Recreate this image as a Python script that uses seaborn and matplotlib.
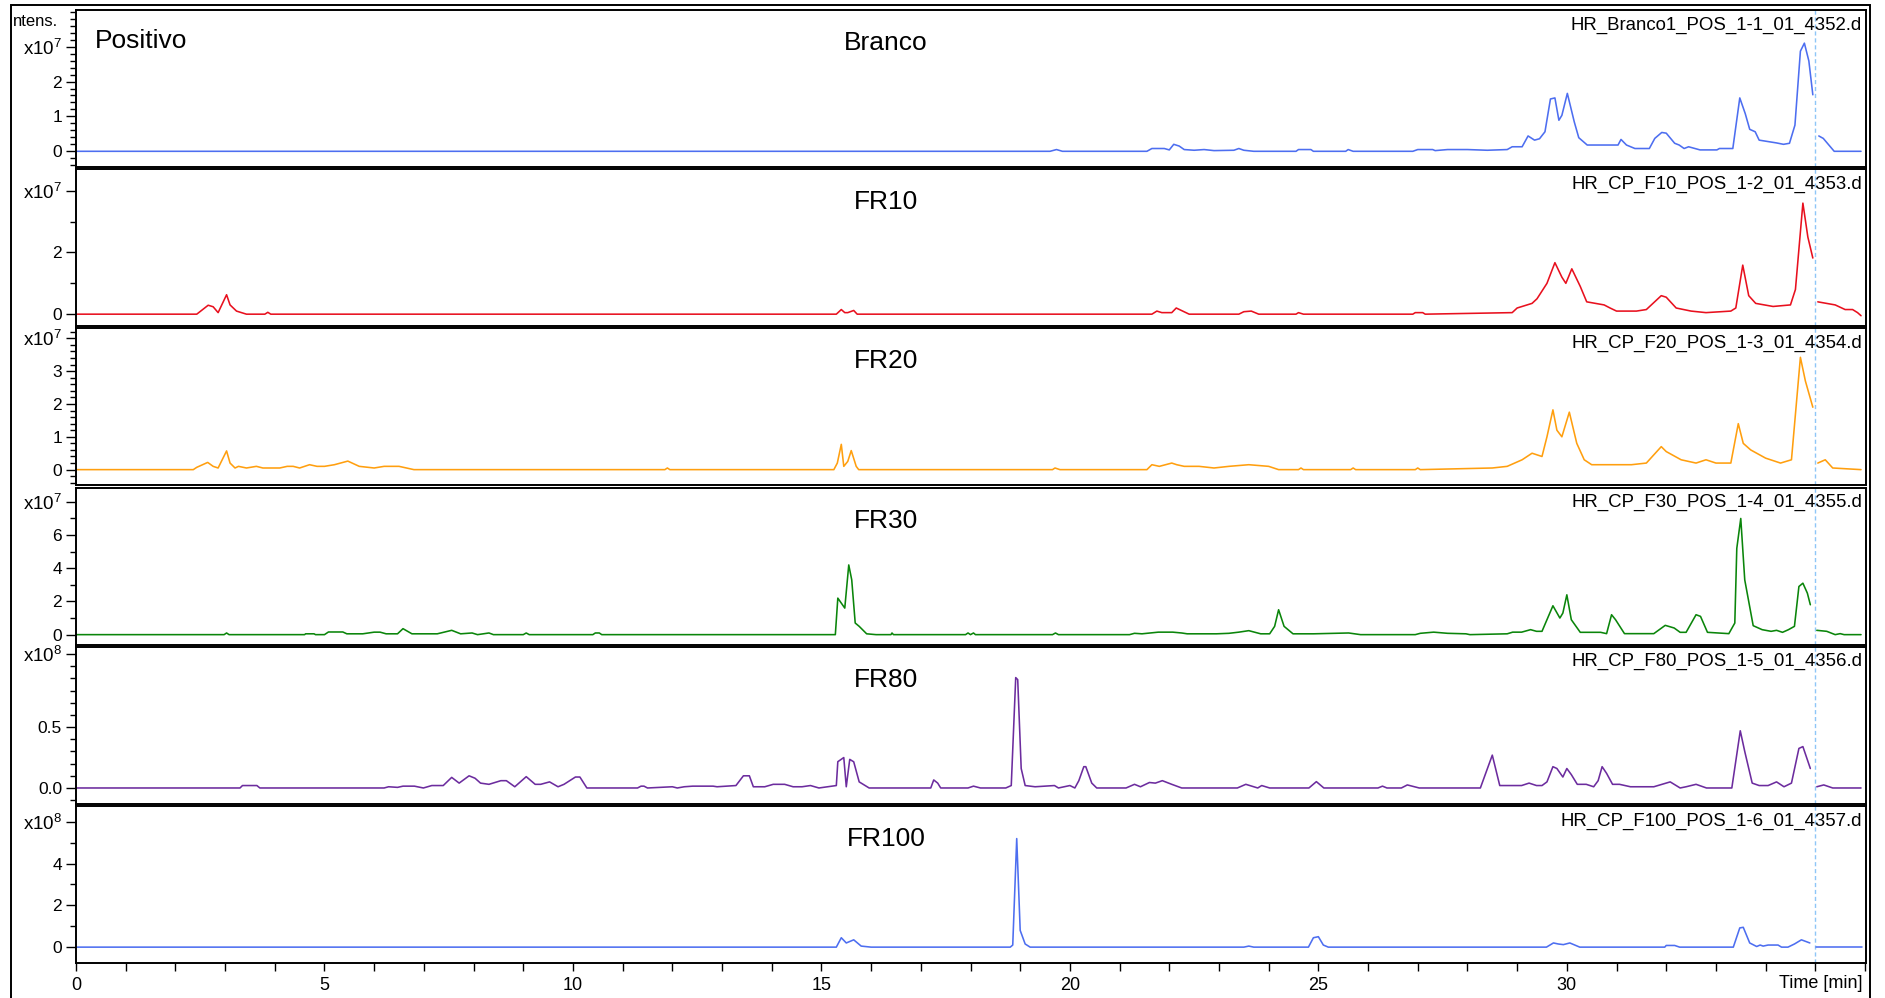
import numpy as np
import pandas as pd
import matplotlib
matplotlib.use("Agg")
import matplotlib.pyplot as plt
import seaborn as sns
from matplotlib.patches import Rectangle
from matplotlib.ticker import FixedLocator

# ---------------- data (time in min, intensity in units of the panel exponent) ----------------
BRANCO_T = [0, 19.6, 19.73, 19.85, 21.55, 21.65, 21.9, 22.0, 22.09, 22.2,
            22.3, 22.5, 22.7, 22.9, 23.3, 23.4, 23.5, 23.7, 24.55, 24.6,
            24.85, 24.9, 25.55, 25.6, 25.7, 26.9, 27.0, 27.3, 27.35, 27.6,
            28.0, 28.4, 28.8, 28.9, 29.1, 29.22, 29.35, 29.45, 29.56, 29.67,
            29.76, 29.84, 29.9, 30.01, 30.15, 30.24, 30.41, 31.03, 31.09, 31.2,
            31.37, 31.66, 31.77, 31.91, 32.0, 32.17, 32.26, 32.36, 32.45, 32.68,
            33.02, 33.07, 33.34, 33.48, 33.59, 33.68, 33.79, 33.87, 34.22, 34.36,
            34.48, 34.59, 34.7, 34.78, 34.87, 34.95, 35.07, 35.16, 35.38, 35.92]
BRANCO_V = [0, 0, 0.05, 0, 0, 0.08, 0.08, 0.04, 0.2, 0.15,
            0.05, 0.03, 0.05, 0.02, 0.03, 0.08, 0.03, 0, 0, 0.05,
            0.05, 0, 0, 0.05, 0, 0, 0.05, 0.05, 0.02, 0.05,
            0.05, 0.03, 0.05, 0.13, 0.13, 0.44, 0.32, 0.36, 0.56, 1.5,
            1.53, 0.89, 1.03, 1.66, 0.84, 0.39, 0.18, 0.18, 0.34, 0.18,
            0.08, 0.08, 0.37, 0.54, 0.52, 0.23, 0.18, 0.08, 0.13, 0.04,
            0.04, 0.08, 0.08, 1.53, 1.08, 0.63, 0.56, 0.32, 0.24, 0.2,
            0.23, 0.75, 2.87, 3.1, 2.59, 1.62, 0.44, 0.37, 0, 0]

FR10_T = [0, 2.43, 2.66, 2.76, 2.86, 3.03, 3.1, 3.23, 3.43, 3.8, 3.86, 3.92,
          15.3, 15.4, 15.47, 15.53, 15.65, 15.72,
          21.65, 21.75, 21.85, 22.05, 22.14, 22.27, 22.4,
          23.4, 23.5, 23.65, 23.8, 24.55, 24.6, 24.7, 26.9, 26.95, 27.1, 27.15,
          28.9, 29.0, 29.2, 29.3, 29.4, 29.6, 29.76, 29.9, 29.98, 30.1,
          30.27, 30.4, 30.75, 30.87, 31.0, 31.4, 31.6, 31.9, 32.0, 32.2,
          32.35, 32.5, 32.8, 33.3, 33.4, 33.54, 33.66, 33.8, 34.15, 34.5,
          34.6, 34.75, 34.85, 34.95,
          35.05, 35.4, 35.6, 35.75, 35.85, 35.92]
FR10_V = [0, 0, 0.29, 0.24, 0.05, 0.63, 0.3, 0.1, 0, 0, 0.06, 0,
          0, 0.15, 0.05, 0.05, 0.12, 0,
          0, 0.1, 0.05, 0.05, 0.2, 0.1, 0,
          0, 0.08, 0.1, 0, 0, 0.05, 0, 0, 0.05, 0.05, 0,
          0.05, 0.2, 0.3, 0.35, 0.5, 1.0, 1.67, 1.2, 1.0, 1.47,
          0.9, 0.4, 0.3, 0.2, 0.1, 0.1, 0.15, 0.6, 0.55, 0.2,
          0.15, 0.1, 0.05, 0.1, 0.2, 1.59, 0.6, 0.35, 0.25, 0.3,
          0.8, 3.6, 2.5, 1.82,
          0.4, 0.3, 0.15, 0.15, 0.05, -0.05]

FR20_T = [0, 2.36, 2.43, 2.65, 2.76, 2.86, 3.03, 3.1, 3.2, 3.27,
          3.43, 3.63, 3.76, 4.1, 4.25, 4.37, 4.5, 4.7, 4.85, 5.0,
          5.2, 5.47, 5.7, 6.0, 6.2, 6.5, 6.8,
          11.85, 11.9, 11.95,
          15.25, 15.32, 15.4, 15.45, 15.53, 15.6, 15.7, 15.75,
          19.65, 19.7, 19.8,
          21.55, 21.65, 21.8, 22.05, 22.15, 22.3, 22.6, 22.9, 23.2, 23.6, 24.0, 24.2,
          24.6, 24.65, 24.7, 25.65, 25.7, 25.75, 26.95, 27.0, 27.05,
          28.5, 28.8, 29.1, 29.3, 29.5, 29.6, 29.72, 29.8, 29.9, 30.05,
          30.2, 30.35, 30.5, 31.3, 31.6, 31.9, 32.0, 32.3, 32.6, 32.8,
          33.0, 33.3, 33.45, 33.55, 33.7, 34.0, 34.3, 34.52, 34.7, 34.8, 34.95,
          35.05, 35.2, 35.35, 35.92]
FR20_V = [0, 0, 0.07, 0.22, 0.1, 0.05, 0.57, 0.2, 0.05, 0.1,
          0.05, 0.1, 0.05, 0.05, 0.1, 0.1, 0.05, 0.15, 0.1, 0.1,
          0.15, 0.26, 0.1, 0.05, 0.1, 0.1, 0,
          0, 0.05, 0,
          0, 0.2, 0.77, 0.1, 0.25, 0.58, 0.1, 0,
          0, 0.05, 0,
          0, 0.15, 0.1, 0.2, 0.15, 0.1, 0.1, 0.05, 0.1, 0.15, 0.1, 0,
          0, 0.05, 0, 0, 0.05, 0, 0, 0.05, 0,
          0.05, 0.1, 0.3, 0.5, 0.4, 1.0, 1.82, 1.2, 1.0, 1.75,
          0.8, 0.3, 0.15, 0.15, 0.2, 0.7, 0.55, 0.3, 0.2, 0.3,
          0.2, 0.2, 1.4, 0.8, 0.6, 0.35, 0.2, 0.3, 3.42, 2.7, 1.9,
          0.2, 0.3, 0.05, 0]

FR30_T = [0, 2.98, 3.03, 3.08, 4.6, 4.62, 4.79, 4.82, 5.0, 5.08,
          5.37, 5.45, 5.77, 6.0, 6.12, 6.24, 6.47, 6.58, 6.76, 7.27,
          7.56, 7.74, 7.97, 8.08, 8.31, 8.4, 9.0, 9.06, 9.12, 10.4,
          10.45, 10.53, 10.58,
          15.28, 15.33, 15.47, 15.55, 15.61, 15.68, 15.76, 15.91, 16.1, 16.4,
          16.42, 16.45, 17.9, 17.95, 18.0, 18.06, 18.1,
          19.65, 19.71, 19.77, 21.2, 21.3, 21.45, 21.78, 22.07, 22.25, 22.36,
          22.95, 23.2, 23.4, 23.6, 23.84, 24.02, 24.12, 24.2, 24.31, 24.49,
          24.67, 24.9, 25.61, 25.73, 25.85, 26.95, 27.05, 27.32, 27.6, 27.97,
          28.05, 28.8, 28.91, 29.09, 29.27, 29.39, 29.5, 29.72, 29.86, 29.92,
          30.0, 30.09, 30.27, 30.68, 30.8, 30.9, 30.98, 31.16, 31.75, 31.98,
          32.16, 32.28, 32.4, 32.6, 32.69, 32.83, 33.26, 33.38, 33.42, 33.5,
          33.58, 33.75, 33.93, 34.11, 34.22, 34.34, 34.46, 34.58, 34.67, 34.75,
          34.84, 34.9,
          35.03, 35.23, 35.4, 35.5, 35.58, 35.92]
FR30_V = [0, 0, 0.1, 0, 0, 0.05, 0.05, 0, 0, 0.16,
          0.16, 0.05, 0.05, 0.15, 0.15, 0.05, 0.05, 0.36, 0.05, 0.05,
          0.26, 0.05, 0.1, 0, 0.1, 0, 0, 0.1, 0, 0,
          0.1, 0.1, 0,
          0, 2.2, 1.6, 4.2, 3.3, 0.7, 0.5, 0.05, 0, 0,
          0.1, 0, 0, 0.1, 0, 0.1, 0,
          0, 0.1, 0, 0, 0.08, 0.05, 0.15, 0.15, 0.1, 0.05,
          0.05, 0.08, 0.15, 0.24, 0.05, 0.05, 0.5, 1.5, 0.5, 0.05,
          0.05, 0.05, 0.1, 0.05, 0, 0, 0.08, 0.15, 0.08, 0.05,
          0, 0.05, 0.15, 0.15, 0.3, 0.2, 0.2, 1.74, 1.0, 1.3,
          2.4, 0.9, 0.14, 0.14, 0.06, 1.2, 0.9, 0.06, 0.06, 0.56,
          0.4, 0.14, 0.14, 1.2, 1.1, 0.14, 0.06, 0.7, 5.2, 7.0,
          3.3, 0.54, 0.3, 0.2, 0.26, 0.14, 0.3, 0.5, 2.9, 3.1,
          2.5, 1.8,
          0.26, 0.2, 0, 0.06, 0, 0]

FR80_T = [0, 3.3, 3.35, 3.64, 3.7, 6.2, 6.29, 6.47, 6.58, 6.81,
          6.99, 7.16, 7.39, 7.56, 7.71, 7.91, 8.03, 8.14, 8.31, 8.55,
          8.66, 8.83, 9.06, 9.24, 9.35, 9.53, 9.7, 9.82, 10.05, 10.14,
          10.28,
          11.3, 11.37, 11.43, 11.5, 12.0, 12.1, 12.24, 12.41, 12.82, 12.9,
          13.28, 13.43, 13.55, 13.63, 13.86, 14.03, 14.26, 14.43, 14.61, 14.78,
          14.95, 15.3, 15.33, 15.45, 15.5, 15.57, 15.65, 15.76, 15.96,
          17.2, 17.26, 17.34, 17.4, 17.95, 18.06, 18.2, 18.71, 18.82, 18.91,
          18.95, 19.02, 19.1, 19.3, 19.69, 19.77, 20.0, 20.1, 20.18, 20.28,
          20.32, 20.44, 20.54, 21.13, 21.3, 21.42, 21.6, 21.72, 21.86, 22.05,
          22.25,
          23.37, 23.54, 23.78, 23.86, 24.02, 24.81, 24.96, 25.11, 26.2, 26.29,
          26.38, 26.67, 26.79, 27.03, 28.26, 28.5, 28.65, 29.09, 29.24, 29.39,
          29.5, 29.6, 29.72, 29.8, 29.92, 30.0, 30.09, 30.21, 30.39, 30.54,
          30.63, 30.71, 30.8, 30.92, 31.06, 31.28, 31.75, 32.08, 32.28, 32.4,
          32.6, 32.81, 33.32, 33.49, 33.58, 33.73, 33.87, 34.05, 34.22, 34.37,
          34.52, 34.67, 34.75, 34.9,
          35.03, 35.17, 35.35, 35.92]
FR80_V = [0, 0, 0.02, 0.02, 0, 0, 0.01, 0.005, 0.015, 0.015,
          0, 0.02, 0.02, 0.087, 0.04, 0.1, 0.08, 0.04, 0.03, 0.06,
          0.06, 0.01, 0.093, 0.03, 0.03, 0.05, 0.01, 0.03, 0.09, 0.09,
          0,
          0, 0.015, 0.015, 0, 0.01, 0, 0.01, 0.015, 0.015, 0.01,
          0.02, 0.1, 0.1, 0.01, 0.01, 0.03, 0.03, 0.01, 0.01, 0.02,
          0, 0.02, 0.216, 0.25, 0.01, 0.235, 0.215, 0.05, 0,
          0, 0.066, 0.04, 0, 0, 0.015, 0, 0, 0.02, 0.907,
          0.89, 0.16, 0.02, 0.01, 0.02, 0, 0.02, 0, 0.06, 0.175,
          0.175, 0.04, 0, 0, 0.03, 0.01, 0.045, 0.04, 0.06, 0.03,
          0,
          0, 0.03, 0, 0.02, 0, 0, 0.052, 0, 0, 0.015,
          0, 0, 0.025, 0, 0, 0.27, 0.02, 0.02, 0.04, 0.02,
          0.02, 0.05, 0.175, 0.16, 0.09, 0.16, 0.11, 0.03, 0.03, 0.01,
          0.06, 0.175, 0.12, 0.03, 0.03, 0.01, 0.01, 0.05, 0, 0.01,
          0.03, 0, 0, 0.47, 0.3, 0.04, 0.02, 0.02, 0.05, 0.01,
          0.04, 0.325, 0.34, 0.16,
          0.01, 0.025, 0, 0]

FR100_T = [0, 15.3, 15.4, 15.5, 15.65, 15.8, 16.0,
           18.8, 18.85, 18.93, 19.0, 19.1, 19.2,
           23.5, 23.6, 23.7,
           24.8, 24.9, 25.0, 25.1, 25.2,
           29.59, 29.73, 29.83, 29.93, 30.06, 30.26,
           31.97, 32.0, 32.17, 32.27,
           33.35, 33.48, 33.55, 33.68, 33.82, 33.89, 33.95, 34.05, 34.25, 34.32,
           34.45, 34.58, 34.72, 34.89,
           35.01, 35.93]
FR100_V = [0, 0, 0.45, 0.2, 0.35, 0.05, 0,
           0, 0.1, 5.2, 0.8, 0.15, 0,
           0, 0.05, 0,
           0, 0.45, 0.5, 0.1, 0,
           0, 0.2, 0.15, 0.12, 0.2, 0,
           0, 0.08, 0.08, 0,
           0, 0.92, 0.95, 0.2, 0.03, 0.1, 0.05, 0.1, 0.1, 0,
           0, 0.15, 0.35, 0.2,
           0, 0]

SAMPLES = ["Branco", "FR10", "FR20", "FR30", "FR80", "FR100"]
FILES = ["HR_Branco1_POS_1-1_01_4352.d", "HR_CP_F10_POS_1-2_01_4353.d",
         "HR_CP_F20_POS_1-3_01_4354.d", "HR_CP_F30_POS_1-4_01_4355.d",
         "HR_CP_F80_POS_1-5_01_4356.d", "HR_CP_F100_POS_1-6_01_4357.d"]
SERIES_T = [BRANCO_T, FR10_T, FR20_T, FR30_T, FR80_T, FR100_T]
SERIES_V = [BRANCO_V, FR10_V, FR20_V, FR30_V, FR80_V, FR100_V]
EXPONENTS = [7, 7, 7, 7, 8, 8]
X_TICKS = [0, 5, 10, 15, 20, 25, 30, 35]
X_TICK_LABELS = ["0", "5", "10", "15", "20", "25", "30", ""]
BREAK_T = 35.0

# ---------------- styling ----------------
COLORS = ["#4d6ef0", "#e8101e", "#ff9f0f", "#0a850a", "#6c2c9e", "#4d6ef0"]
YLIMS = [(-0.45, 4.05), (-0.39, 4.7), (-0.48, 4.3), (-0.6, 8.86), (-0.13, 1.16), (-0.76, 6.76)]
Y_MAJOR = [[0, 1, 2], [0, 2], [0, 1, 2, 3], [0, 2, 4, 6], [0.0, 0.5], [0, 2, 4]]
Y_MAJOR_LBL = [["0", "1", "2"], ["0", "2"], ["0", "1", "2", "3"], ["0", "2", "4", "6"],
               ["0.0", "0.5"], ["0", "2", "4"]]
Y_EXP_POS = [3, 4, 4, 8, 1.1, 6]
Y_MINOR = [np.arange(-0.4, 4.01, 0.2), [1, 3], np.arange(-0.4, 4.21, 0.2),
           [1, 3, 5, 7], np.arange(-0.1, 1.11, 0.1), [1, 3, 5]]

sns.set_theme(style="ticks")
plt.rcParams["font.family"] = ["Liberation Sans", "DejaVu Sans"]
plt.rcParams["mathtext.fontset"] = "custom"
plt.rcParams["mathtext.rm"] = "Liberation Sans"
plt.rcParams["mathtext.it"] = "Liberation Sans:italic"
plt.rcParams["axes.edgecolor"] = "black"
plt.rcParams["xtick.color"] = "black"
plt.rcParams["ytick.color"] = "black"
plt.rcParams["text.color"] = "black"

W, H = 1885, 998
fig = plt.figure(figsize=(W / 100, H / 100), dpi=100)
gs = fig.add_gridspec(6, 1, left=76 / W, right=1866 / W, top=1 - 10 / H,
                      bottom=1 - 963 / H, hspace=0.014)

for i in range(6):
    ax = fig.add_subplot(gs[i, 0])
    t = np.asarray(SERIES_T[i], float)
    v = np.asarray(SERIES_V[i], float)
    assert len(t) == len(v), (SAMPLES[i], len(t), len(v))
    df = pd.DataFrame({"t": t, "v": v, "seg": (t > BREAK_T).astype(int)})
    sns.lineplot(data=df, x="t", y="v", units="seg", estimator=None,
                 color=COLORS[i], lw=1.15, ax=ax, legend=False)
    ax.axvline(BREAK_T, color="#8ec6f7", lw=1.0, ls=(0, (3, 2)), zorder=1)
    ax.set_xlim(0, 36.02)
    ax.set_ylim(*YLIMS[i])
    ax.set_xlabel("")
    ax.set_ylabel("")
    for s in ax.spines.values():
        s.set_visible(True)
        s.set_linewidth(1.4)
        s.set_color("black")

    ax.yaxis.set_major_locator(FixedLocator(Y_MAJOR[i] + [Y_EXP_POS[i]]))
    ax.set_yticklabels(Y_MAJOR_LBL[i] + [r"x10$^{%d}$" % EXPONENTS[i]])
    ax.yaxis.set_minor_locator(FixedLocator(list(Y_MINOR[i])))
    ax.tick_params(axis="y", which="major", direction="out", length=7, width=1.0,
                   labelsize=12.5, pad=3, left=True)
    ax.tick_params(axis="y", which="minor", direction="out", length=4, width=1.0, left=True)
    ax.get_yticklabels()[-1].set_fontsize(13.5)

    ax.xaxis.set_major_locator(FixedLocator(X_TICKS))
    ax.xaxis.set_minor_locator(FixedLocator([k for k in range(0, 37) if k % 5 != 0]))
    if i < 5:
        ax.tick_params(axis="x", which="both", bottom=False, labelbottom=False)
    else:
        ax.set_xticklabels(X_TICK_LABELS)
        ax.tick_params(axis="x", which="both", direction="out", length=6, width=1.0,
                       bottom=True, labelsize=13, pad=4)

    ax.text(0.4525, 0.79, SAMPLES[i], transform=ax.transAxes, ha="center",
            va="center", fontsize=19)
    ax.text(0.9978, 0.905, FILES[i], transform=ax.transAxes, ha="right",
            va="center", fontsize=13.4)
    if i == 0:
        ax.text(0.0106, 0.80, "Positivo", transform=ax.transAxes, ha="left",
                va="center", fontsize=19)

fig.text(58 / W, 1 - 21 / H, "ntens.", ha="right", va="center", fontsize=12)
fig.text(1862 / W, 1 - 984 / H, "Time [min]", ha="right", va="center", fontsize=13)
fig.add_artist(Rectangle((11 / W, -0.01), (1870 - 11) / W, 1.01 - 5 / H,
                         transform=fig.transFigure, fill=False, lw=1.4,
                         edgecolor="black"))

fig.savefig("out.png", dpi=100)
